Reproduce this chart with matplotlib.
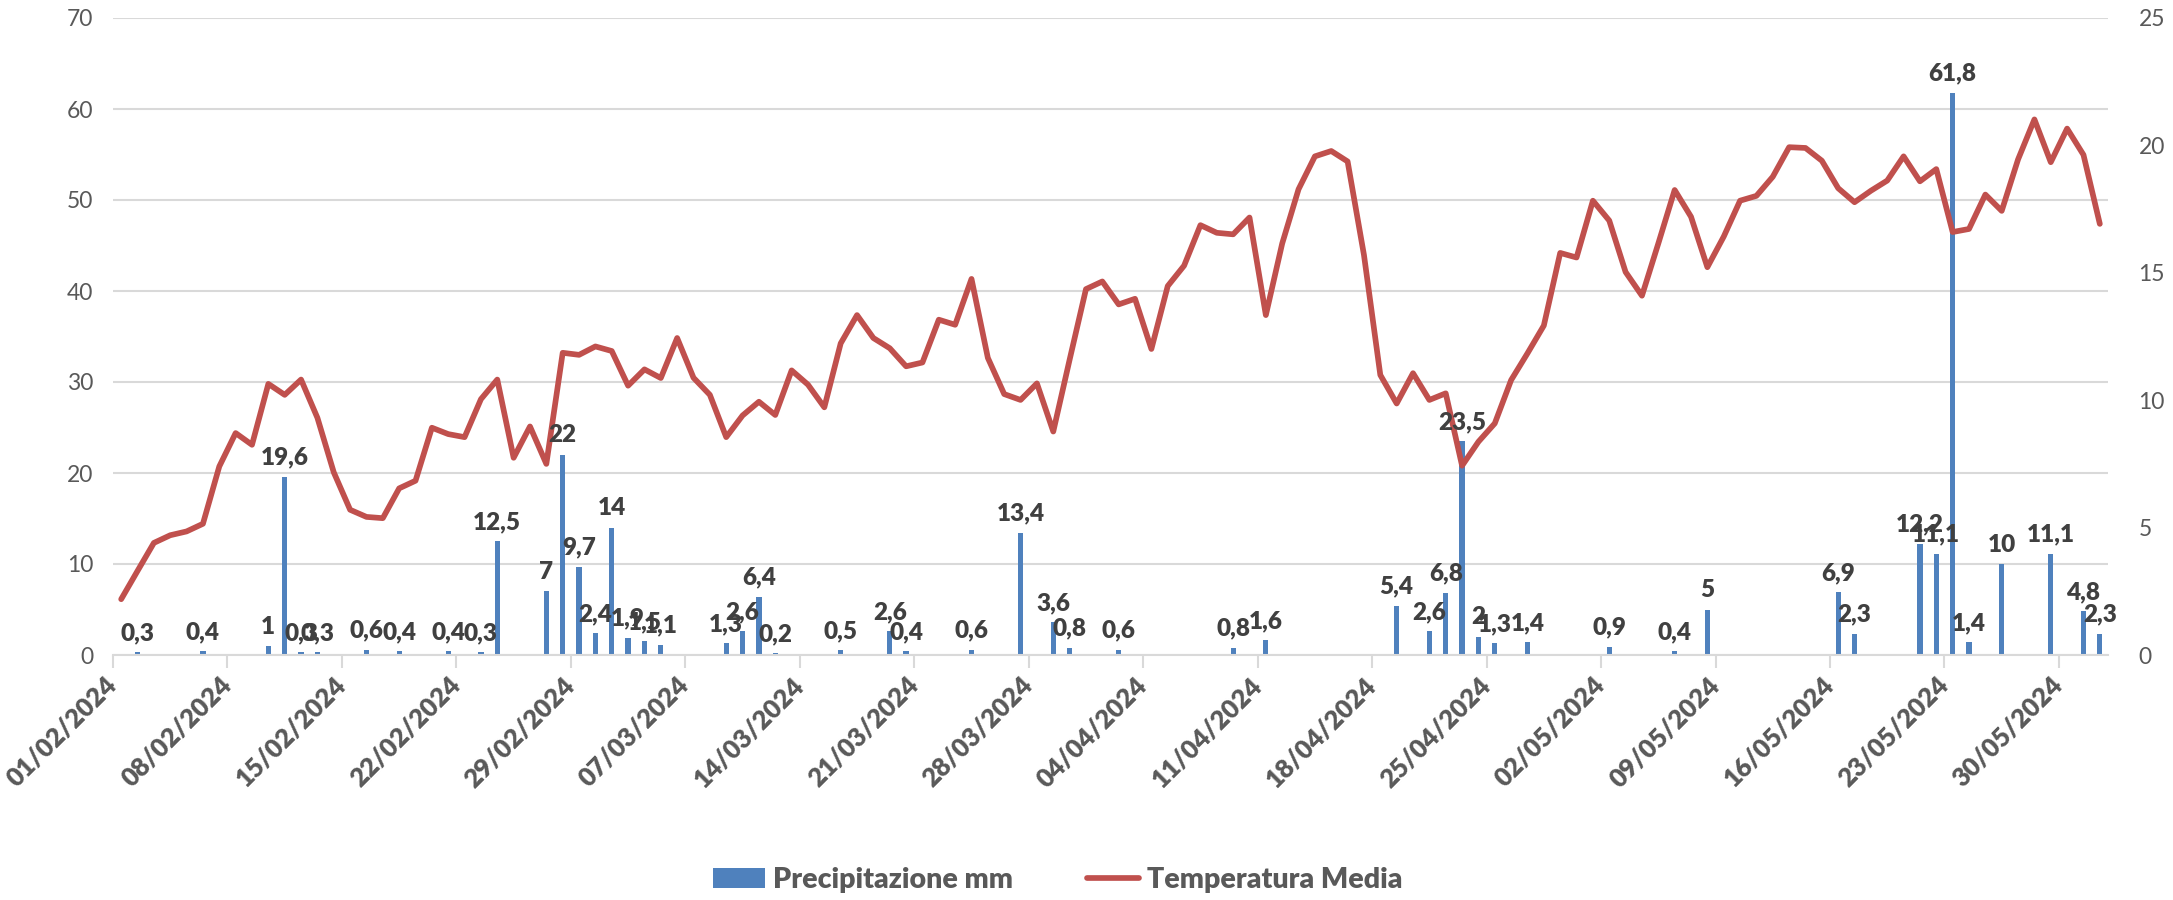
import numpy as np
import pandas as pd
import matplotlib
matplotlib.use('Agg')
import matplotlib.pyplot as plt
import matplotlib.dates as mdates
from matplotlib.lines import Line2D
from matplotlib.patches import Patch

# --- DATA ---
START = '2024-02-01'
N_DAYS = 122

# daily mean temperature (right axis), 01/02 -> 01/06
temperatura = [
    2.19, 3.30, 4.40, 4.70, 4.85, 5.15, 7.40, 8.71, 8.25, 10.64,
    10.21, 10.81, 9.31, 7.17, 5.70, 5.42, 5.37, 6.54, 6.84, 8.92,
    8.67, 8.55, 10.04, 10.81, 7.74, 8.97, 7.50, 11.86, 11.78, 12.11,
    11.93, 10.57, 11.21, 10.87, 12.44, 10.88, 10.21, 8.55, 9.40, 9.94,
    9.42, 11.17, 10.61, 9.72, 12.23, 13.34, 12.44, 12.04, 11.33, 11.48,
    13.16, 12.96, 14.76, 11.66, 10.24, 10.01, 10.66, 8.77, 11.59, 14.36,
    14.66, 13.76, 13.98, 12.01, 14.48, 15.28, 16.87, 16.57, 16.51, 17.17,
    13.34, 16.15, 18.28, 19.57, 19.78, 19.37, 15.70, 10.99, 9.87, 11.06,
    10.01, 10.27, 7.43, 8.37, 9.09, 10.79, 11.84, 12.93, 15.78, 15.60,
    17.83, 17.05, 15.03, 14.10, 16.15, 18.25, 17.20, 15.22, 16.42, 17.83,
    18.02, 18.77, 19.93, 19.90, 19.40, 18.32, 17.77, 18.22, 18.62, 19.57,
    18.59, 19.07, 16.60, 16.72, 18.07, 17.43, 19.45, 21.02, 19.34, 20.66,
    19.63, 16.92,
]

# rainy days: day index (0 = 01/02/2024) and mm
pioggia_giorni = [
    1, 5, 9, 10, 11, 12, 15, 17, 20, 22, 23, 26, 27, 28, 29, 30, 31, 32, 33,
    37, 38, 39, 40, 44, 47, 48, 52, 55, 57, 58, 61, 68, 70, 78, 80, 81, 82,
    83, 84, 86, 91, 95, 97, 105, 106, 110, 111, 112, 113, 115, 118, 120, 121,
]
pioggia_mm = [
    0.3, 0.4, 1, 19.6, 0.3, 0.3, 0.6, 0.4, 0.4, 0.3, 12.5, 7, 22, 9.7, 2.4,
    14, 1.9, 1.5, 1.1, 1.3, 2.6, 6.4, 0.2, 0.5, 2.6, 0.4, 0.6, 13.4, 3.6, 0.8,
    0.6, 0.8, 1.6, 5.4, 2.6, 6.8, 23.5, 2, 1.3, 1.4, 0.9, 0.4, 5, 6.9, 2.3,
    12.2, 11.1, 61.8, 1.4, 10, 11.1, 4.8, 2.3,
]

BLUE = '#4F81BD'
RED = '#C0504D'
GREY = '#595959'
GRID = '#D9D9D9'
FONT = ['Lato', 'DejaVu Sans']

plt.rcParams['font.family'] = FONT

dates = pd.date_range(START, periods=N_DAYS, freq='D')
centers = dates + pd.Timedelta(hours=12)

fig = plt.figure(figsize=(21.73, 9.0), dpi=100)
ax1 = fig.add_axes([113 / 2173, 1 - 655 / 900, (2108 - 113) / 2173, (655 - 18) / 900])
ax2 = ax1.twinx()

# bars (left axis)
rain_x = centers[pioggia_giorni]
ax1.bar(rain_x, pioggia_mm, width=0.32, color=BLUE, zorder=2)
ax1.set_ylim(0, 70)
ax1.set_yticks(range(0, 71, 10))
ax1.yaxis.grid(True, color=GRID, linewidth=1.5, zorder=0)
ax1.set_axisbelow(True)

# temperature line (right axis)
ax2.plot(centers, temperatura, color=RED, linewidth=4.1,
         solid_joinstyle='round', solid_capstyle='round', zorder=3)
ax2.set_ylim(0, 25)
ax2.set_yticks(range(0, 26, 5))

# x axis: weekly ticks on day boundaries
ax1.set_xlim(dates[0], dates[-1] + pd.Timedelta(days=1))
week_ticks = pd.date_range(START, '2024-05-30', freq='7D')
ax1.set_xticks(week_ticks)
ax1.xaxis.set_major_formatter(mdates.DateFormatter('%d/%m/%Y'))
for lab in ax1.get_xticklabels():
    lab.set_rotation(45)
    lab.set_ha('right')
    lab.set_va('center')
    lab.set_rotation_mode('anchor')
    lab.set_fontweight('heavy')
    lab.set_fontsize(18.5)
    lab.set_color(GREY)
ax1.tick_params(axis='x', length=9, width=1.5, color=GRID, pad=10)
ax1.tick_params(axis='y', length=0, labelsize=16.5, labelcolor=GREY, pad=14)
ax2.tick_params(axis='y', length=0, labelsize=16.5, labelcolor=GREY, pad=22)

for ax in (ax1, ax2):
    for side in ('left', 'right', 'top'):
        ax.spines[side].set_visible(False)
ax1.spines['bottom'].set_color(GRID)
ax1.spines['bottom'].set_linewidth(1.5)
ax2.spines['bottom'].set_visible(False)

# data labels on top of everything
for x, v in zip(rain_x, pioggia_mm):
    txt = f'{v:g}'.replace('.', ',')
    ax2.annotate(txt, xy=(mdates.date2num(x), v), xycoords=ax1.transData,
                 xytext=(0, 6), textcoords='offset points',
                 ha='center', va='bottom', fontsize=17.5, fontweight='heavy',
                 color='#404040', zorder=5)

handles = [Patch(facecolor=BLUE, edgecolor='none'),
           Line2D([0], [0], color=RED, linewidth=4.1, solid_capstyle='round')]
leg = fig.legend(handles, ['Precipitazione mm', 'Temperatura Media'],
                 loc='center', bbox_to_anchor=(1058 / 2173, 1 - 880 / 900),
                 ncol=2, frameon=False, columnspacing=2.6, handlelength=1.8,
                 handletextpad=0.3,
                 prop={'family': FONT, 'weight': 'heavy', 'size': 20.5})
for t in leg.get_texts():
    t.set_color(GREY)

fig.savefig('out.png', dpi=100)
